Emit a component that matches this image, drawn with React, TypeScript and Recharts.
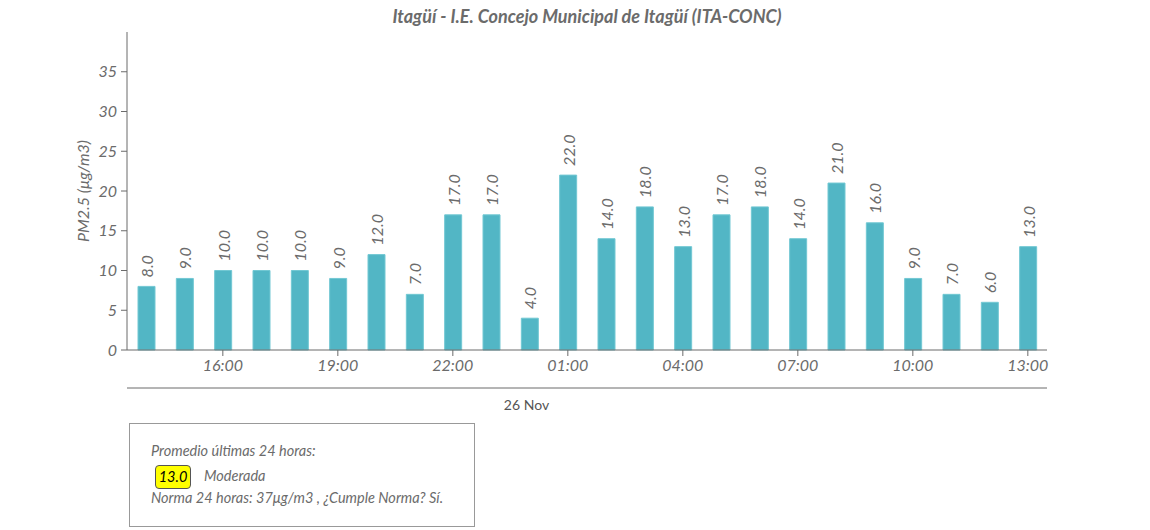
import React from "react";
import { BarChart, Bar, XAxis, YAxis, LabelList } from "recharts";

const horas = [
  "14:00", "15:00", "16:00", "17:00", "18:00", "19:00", "20:00", "21:00",
  "22:00", "23:00", "00:00", "01:00", "02:00", "03:00", "04:00", "05:00",
  "06:00", "07:00", "08:00", "09:00", "10:00", "11:00", "12:00", "13:00",
];
const pm25 = [8, 9, 10, 10, 10, 9, 12, 7, 17, 17, 4, 22, 14, 18, 13, 17, 18, 14, 21, 16, 9, 7, 6, 13];
const ticksHora = ["16:00", "19:00", "22:00", "01:00", "04:00", "07:00", "10:00", "13:00"];
const ticksY = [0, 5, 10, 15, 20, 25, 30, 35];
const fechaTick = ["00:00"];
const fechaLabel = "26 Nov";
const titulo = "Itagüí - I.E. Concejo Municipal de Itagüí (ITA-CONC)";
const promedio = "13.0";
const categoria = "Moderada";

const data = horas.map((h, i) => ({ hora: h, valor: pm25[i] }));

const FONT = "Lato, 'Open Sans', sans-serif";
const GRAY = "#6b6b6b";

const BarLabel = (props: any) => {
  const { x, y, width, value } = props;
  const cx = x + width / 2;
  const cy = y - 9;
  return (
    <text
      x={cx}
      y={cy}
      transform={`rotate(-90 ${cx} ${cy})`}
      textAnchor="start"
      dominantBaseline="central"
      fontSize={16}
      fontStyle="italic"
      fontFamily={FONT}
      fill={GRAY}
    >
      {Number(value).toFixed(1)}
    </text>
  );
};

export default function App() {
  return (
    <div style={{ position: "relative", width: 1150, height: 530, fontFamily: FONT }}>
      <style>{`body{margin:0}`}</style>
      <div
        style={{
          position: "absolute",
          left: 127,
          width: 920,
          top: 5,
          textAlign: "center",
          fontSize: 18,
          fontWeight: 700,
          fontStyle: "italic",
          color: GRAY,
        }}
      >
        {titulo}
      </div>
      <BarChart
        width={1150}
        height={530}
        data={data}
        margin={{ top: 32, right: 103, left: 63, bottom: 112 }}
        barSize={17}
      >
        <XAxis
          dataKey="hora"
          ticks={ticksHora}
          interval={0}
          height={38}
          tickSize={6}
          tickMargin={4}
          stroke={GRAY}
          tick={{ fontSize: 16, fontStyle: "italic", fill: GRAY, fontFamily: FONT }}
        />
        <XAxis
          xAxisId="fecha"
          dataKey="hora"
          ticks={fechaTick}
          interval={0}
          height={30}
          tickLine={false}
          tickMargin={6}
          stroke={GRAY}
          tickFormatter={() => fechaLabel}
          tick={{ fontSize: 14, fill: "#555", fontFamily: FONT, dx: -3 }}
        />
        <YAxis
          domain={[0, 40]}
          ticks={ticksY}
          width={64}
          tickSize={6}
          tickMargin={4}
          stroke={GRAY}
          tick={{ fontSize: 16, fontStyle: "italic", fill: GRAY, fontFamily: FONT }}
          label={{
            value: "PM2.5 (μg/m3)",
            angle: -90,
            position: "center",
            dx: -12,
            style: { fontSize: 16, fontStyle: "italic", fill: GRAY, fontFamily: FONT, textAnchor: "middle" },
          }}
        />
        <Bar dataKey="valor" fill="#52b6c5" stroke="#72c8d3" strokeWidth={1} isAnimationActive={false}>
          <LabelList dataKey="valor" content={BarLabel} />
        </Bar>
      </BarChart>
      <div
        style={{
          position: "absolute",
          left: 129,
          top: 423,
          width: 344,
          height: 102,
          border: "1px solid #999",
          fontSize: 14.5,
          fontStyle: "italic",
          color: GRAY,
          boxSizing: "content-box",
        }}
      >
        <div style={{ position: "absolute", left: 21, top: 18 }}>Promedio últimas 24 horas:</div>
        <div
          style={{
            position: "absolute",
            left: 25,
            top: 41,
            width: 34,
            height: 22,
            lineHeight: "22px",
            textAlign: "center",
            background: "#ffff00",
            border: "1px solid #555",
            borderRadius: 4,
            color: "#000",
          }}
        >
          {promedio}
        </div>
        <div style={{ position: "absolute", left: 74, top: 43 }}>{categoria}</div>
        <div style={{ position: "absolute", left: 21, top: 65 }}>
          Norma 24 horas: 37μg/m3 , ¿Cumple Norma? Sí.
        </div>
      </div>
    </div>
  );
}
